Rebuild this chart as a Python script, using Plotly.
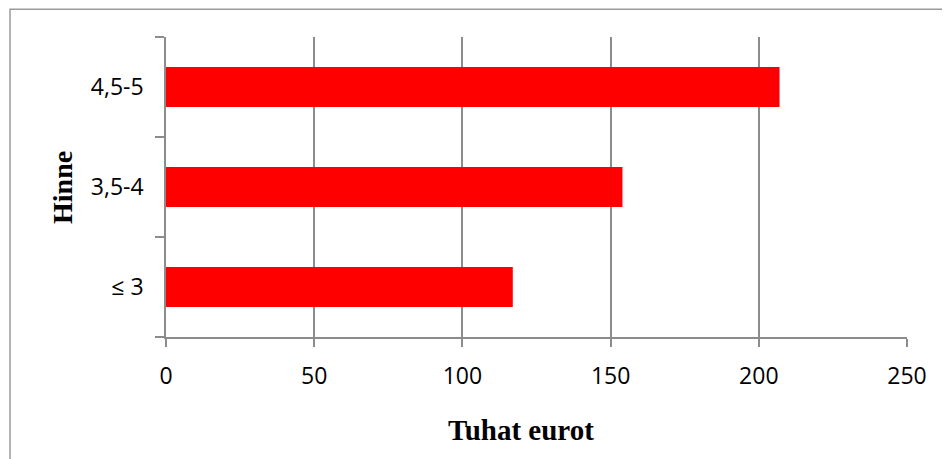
import plotly.graph_objects as go

categories = ["≤ 3", "3,5-4", "4,5-5"]
values = [117, 154, 207]
x_ticks = [0, 50, 100, 150, 200, 250]
x_title = "Tuhat eurot"
y_title = "Hinne"

OFF = 8  # page body margin offset
W, H = 950 - OFF, 459 - OFF
L, T = 166 - OFF, 37 - OFF
R = W - (907 - OFF)
B = H - (337 - OFF)
pw, ph = W - L - R, H - T - B

def px_x(px):
    return (px - OFF - L) / pw

def px_y(py):
    return (H - B - (py - OFF)) / ph

fig = go.Figure(go.Bar(
    x=values, y=categories, orientation="h",
    marker=dict(color="#FF0000", line=dict(width=0)),
    width=0.4,
))

bx0, bx1 = px_x(10), px_x(1000)
by0, by1 = px_y(520), px_y(9.2)
border_path = f"M {bx0},{by0} L {bx0},{by1} L {bx1},{by1}"

axis_color = "#8c8c8c"
fig.update_layout(
    width=W, height=H,
    margin=dict(l=L, r=R, t=T, b=B, pad=0),
    paper_bgcolor="white", plot_bgcolor="white",
    showlegend=False,
    font=dict(family="Open Sans, Noto Sans, sans-serif", size=23, color="black"),
    xaxis=dict(
        range=[0, 250], tickvals=x_ticks, ticktext=[str(v) for v in x_ticks],
        showgrid=True, gridcolor=axis_color, gridwidth=1.5,
        showline=True, linecolor=axis_color, linewidth=1.5,
        ticks="outside", ticklen=8, tickcolor=axis_color, tickwidth=1.5,
        zeroline=False, ticklabelstandoff=10,
    ),
    yaxis=dict(
        type="category", categoryorder="array", categoryarray=categories,
        range=[-0.5, 2.5],
        showgrid=False, showline=True, linecolor=axis_color, linewidth=1.5,
        ticks="outside", ticklen=9, tickcolor=axis_color, tickwidth=1.5,
        tickson="boundaries", ticklabelstandoff=16,
        zeroline=False,
    ),
    shapes=[dict(
        type="path", xref="paper", yref="paper", path=border_path,
        line=dict(color="#9a9a9a", width=1.5), layer="below",
    )],
    annotations=[
        dict(text=f"<b>{x_title}</b>", xref="paper", yref="paper",
             x=px_x(521), y=px_y(430), showarrow=False,
             xanchor="center", yanchor="middle",
             font=dict(family="Liberation Serif, Times New Roman, serif", size=29, color="black")),
        dict(text=f"<b>{y_title}</b>", xref="paper", yref="paper",
             x=px_x(62), y=px_y(188), showarrow=False, textangle=-90,
             xanchor="center", yanchor="middle",
             font=dict(family="Liberation Serif, Times New Roman, serif", size=28, color="black")),
    ],
)

fig.write_html("out.html")
